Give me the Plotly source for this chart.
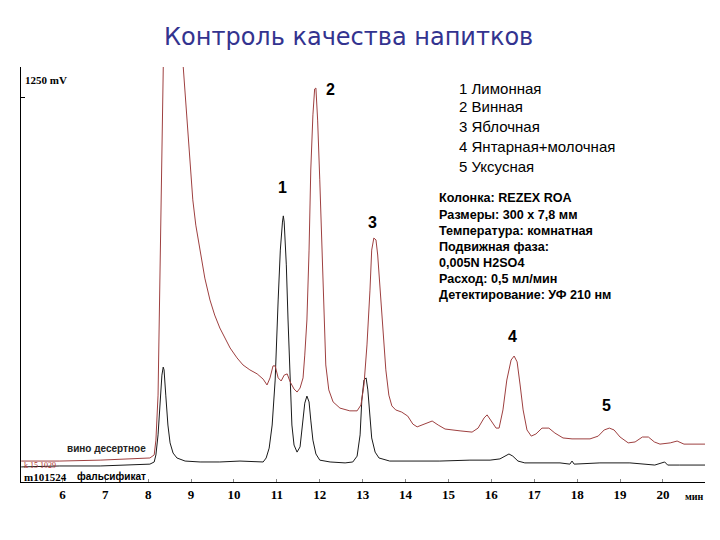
import plotly.graph_objects as go

# ---- data (time in minutes, signal in mV) ----
black_t = [5.04, 5.94, 6.88, 7.81, 8.04, 8.14, 8.18, 8.23, 8.27, 8.32, 8.35, 8.37, 8.41, 8.46, 8.51,
           8.58, 8.67, 8.86, 9.21, 9.67, 10.14, 10.49, 10.68, 10.75, 10.82, 10.89, 10.96, 11.03,
           11.08, 11.13, 11.15, 11.17, 11.22, 11.26, 11.31, 11.35, 11.40, 11.47, 11.54, 11.61,
           11.65, 11.70, 11.75, 11.79, 11.84, 11.91, 12.00, 12.24, 12.59, 12.77, 12.87, 12.94,
           12.98, 13.03, 13.08, 13.12, 13.17, 13.21, 13.29, 13.38, 13.63, 14.17, 14.80, 15.50,
           15.97, 16.20, 16.32, 16.41, 16.50, 16.62, 16.78, 17.25, 17.60, 17.83, 17.88, 17.93,
           18.53, 19.23, 19.81, 20.04, 20.11, 20.39, 20.98]
black_v = [49, 52, 52, 55, 58, 65, 88, 153, 250, 347, 373, 364, 282, 185, 127,
           94, 78, 68, 65, 65, 68, 65, 65, 78, 110, 185, 331, 591,
           753, 844, 864, 844, 705, 526, 331, 185, 120, 97, 114, 201,
           256, 279, 260, 201, 136, 91, 71, 65, 62, 65, 84, 153,
           266, 331, 338, 299, 218, 143, 97, 78, 68, 68, 68, 71,
           71, 75, 84, 91, 84, 68, 62, 62, 62, 58, 68, 58,
           62, 62, 55, 65, 55, 55, 55]

red_t = [5.04, 5.94, 6.88, 7.81, 8.04, 8.14, 8.18, 8.23, 8.27, 8.32, 8.36, 8.45, 8.70, 8.80,
         8.86, 8.90, 8.97, 9.04, 9.11, 9.21, 9.32, 9.44, 9.55, 9.67, 9.79, 9.91, 10.07, 10.21,
         10.37, 10.54, 10.68, 10.77, 10.84, 10.91, 10.96, 11.03, 11.10, 11.17, 11.24, 11.31,
         11.40, 11.47, 11.54, 11.61, 11.65, 11.70, 11.75, 11.79, 11.84, 11.88, 11.91, 11.95,
         12.00, 12.05, 12.10, 12.14, 12.21, 12.31, 12.47, 12.70, 12.87, 12.96, 13.03, 13.10,
         13.17, 13.21, 13.26, 13.31, 13.35, 13.40, 13.47, 13.54, 13.61, 13.68, 13.77, 13.91,
         14.05, 14.17, 14.27, 14.43, 14.62, 14.76, 14.92, 15.27, 15.55, 15.69, 15.83, 15.90,
         15.99, 16.11, 16.18, 16.27, 16.36, 16.46, 16.53, 16.60, 16.67, 16.74, 16.83, 16.93,
         17.04, 17.18, 17.34, 17.48, 17.67, 17.88, 18.30, 18.49, 18.63, 18.75, 18.86, 19.00,
         19.19, 19.35, 19.52, 19.66, 19.80, 19.93, 20.17, 20.33, 20.49, 20.98]
red_v = [68, 68, 71, 75, 78, 88, 136, 282, 623, 1078, 1420, 2600, 2600, 1380,
         1257, 1175, 1029, 916, 834, 753, 662, 591, 542, 500, 468, 435, 403, 380,
         364, 351, 334, 315, 338, 377, 377, 338, 328, 347, 351, 325,
         302, 292, 305, 338, 412, 526, 753, 1013, 1192, 1276, 1279, 1175,
         981, 753, 526, 380, 299, 260, 240, 231, 231, 250, 315, 445,
         623, 753, 792, 786, 737, 640, 494, 364, 282, 247, 234, 227,
         214, 188, 179, 188, 198, 185, 172, 166, 162, 175, 208, 218,
         201, 175, 175, 234, 331, 396, 409, 390, 315, 234, 169, 149,
         156, 175, 175, 159, 143, 140, 140, 149, 169, 175, 169, 146,
         127, 130, 146, 146, 130, 123, 127, 133, 123, 123]

x_ticks = [6, 7, 8, 9, 10, 11, 12, 13, 14, 15, 16, 17, 18, 19, 20]
peak_labels = ["1", "2", "3", "4", "5"]
peak_t = [11.12, 12.26, 13.24, 16.50, 18.69]
peak_v = [955, 1273, 844, 474, 250]
acids = ["1 Лимонная", "2 Винная", "3 Яблочная", "4 Янтарная+молочная", "5 Уксусная"]
conditions = ["Колонка: REZEX ROA", "Размеры: 300 x 7,8 мм", "Температура: комнатная",
              "Подвижная фаза:", "0,005N H2SO4", "Расход: 0,5 мл/мин",
              "Детектирование: УФ 210 нм"]

RED = "#9E4040"
fig = go.Figure()
fig.add_trace(go.Scatter(x=black_t, y=black_v, mode="lines",
                         line=dict(color="#1a1a1a", width=1), hoverinfo="skip"))
fig.add_trace(go.Scatter(x=red_t, y=red_v, mode="lines",
                         line=dict(color=RED, width=1), hoverinfo="skip"))

ann = []
# title
ann.append(dict(x=0.4795, y=1.072, xref="paper", yref="paper", text="Контроль качества напитков",
                showarrow=False, font=dict(family="DejaVu Sans", size=24, color="#33338F"),
                xanchor="center", yanchor="middle"))
for lab, t, v in zip(peak_labels, peak_t, peak_v):
    ann.append(dict(x=t, y=v, text=lab, showarrow=False,
                    font=dict(family="Liberation Sans", size=16, color="black", weight="bold"),
                    xanchor="center", yanchor="middle"))
acid_v = [1279, 1218, 1153, 1088, 1023]
for txt, v in zip(acids, acid_v):
    ann.append(dict(x=15.20, y=v, text=txt, showarrow=False,
                    font=dict(family="Liberation Sans", size=15, color="black"),
                    xanchor="left", yanchor="middle"))
cond_v = [922, 867, 815, 763, 711, 659, 607]
for txt, v in zip(conditions, cond_v):
    ann.append(dict(x=14.73, y=v, text=txt, showarrow=False,
                    font=dict(family="Liberation Sans", size=12.6, color="black", weight="bold"),
                    xanchor="left", yanchor="middle"))
ann.append(dict(x=5.08, y=1305, text="1250 mV", showarrow=False,
                font=dict(family="Liberation Serif", size=11, color="black", weight="bold"),
                xanchor="left", yanchor="middle"))
ann.append(dict(x=7.02, y=110, text="вино десертное", showarrow=False,
                font=dict(family="Liberation Sans", size=10, color="#222", weight="bold"),
                xanchor="center", yanchor="middle"))
ann.append(dict(x=5.05, y=52, text="k 15 1029", showarrow=False,
                font=dict(family="Liberation Serif", size=8, color="#B03030"),
                xanchor="left", yanchor="middle"))
ann.append(dict(x=5.05, y=17, text="m101524", showarrow=False,
                font=dict(family="Liberation Serif", size=11, color="black", weight="bold"),
                xanchor="left", yanchor="middle"))
ann.append(dict(x=7.15, y=19, text="фальсификат", showarrow=False,
                font=dict(family="Liberation Sans", size=10, color="black", weight="bold"),
                xanchor="center", yanchor="middle"))
ann.append(dict(x=0.984, y=0.0, xref="paper", yref="paper", text="мин", showarrow=False,
                font=dict(family="Liberation Serif", size=10, color="black", weight="bold"),
                xanchor="center", yanchor="top", yshift=-7))

fig.update_layout(
    width=720, height=540,
    margin=dict(l=21, r=15, t=67, b=58),
    paper_bgcolor="white", plot_bgcolor="white",
    showlegend=False,
    annotations=ann,
    xaxis=dict(range=[5.035, 20.98], tickvals=x_ticks, ticktext=[str(v) for v in x_ticks],
               showgrid=False, zeroline=False, showline=True, linecolor="black", linewidth=1,
               ticks="inside", ticklen=3, tickcolor="#888",
               tickfont=dict(family="Liberation Serif", size=13, color="black", weight="bold")),
    yaxis=dict(range=[0, 1347.4], tickvals=[1250], showticklabels=False,
               showgrid=False, zeroline=False, showline=True, linecolor="black", linewidth=1,
               ticks="inside", ticklen=4, tickcolor="black"),
)
fig.write_html("out.html")
